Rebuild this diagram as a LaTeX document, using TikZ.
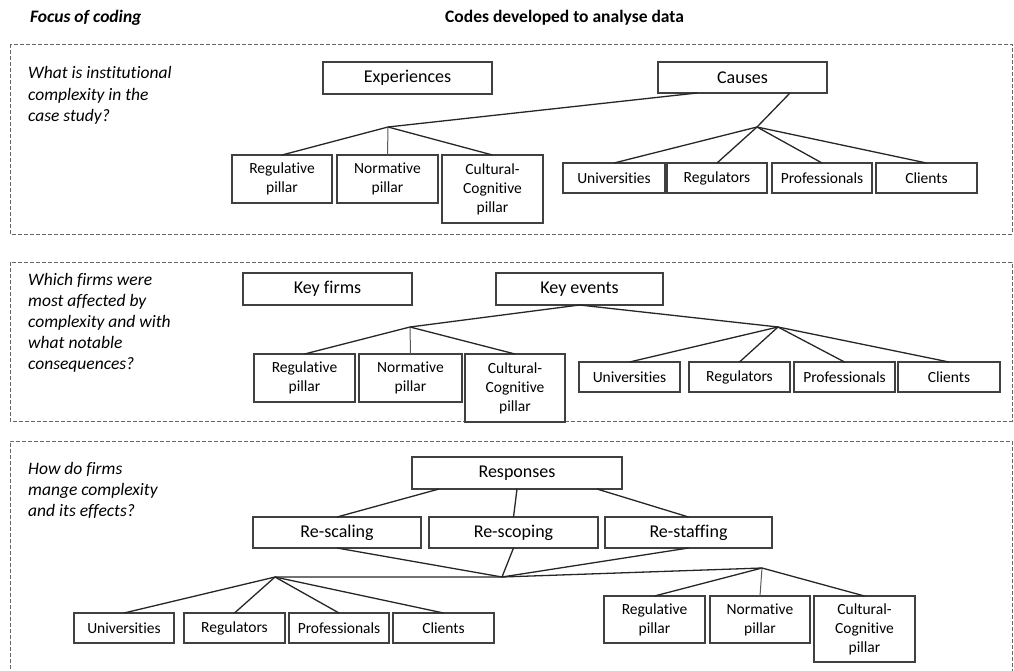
\documentclass[tikz,border=0pt]{standalone}
\usepackage{fontspec}
\setmainfont{Carlito}[Ligatures=NoCommon]
\usetikzlibrary{calc}
\begin{document}
\begin{tikzpicture}[x=1pt,y=-1pt,
  panel/.style={draw=black!60, line width=0.9pt, dash pattern=on 4pt off 2pt},
  bigbox/.style={draw=black!75, line width=1.1pt, inner sep=0pt, outer sep=0pt, font=\fontsize{18}{21}\selectfont, text=black},
  smallbox/.style={draw=black!75, line width=1.1pt, inner sep=0pt, outer sep=0pt, align=center, font=\fontsize{15.5}{19}\selectfont, text=black},
  twoline/.style={smallbox, minimum height=48pt},
  threeline/.style={smallbox, minimum height=68pt},
  oneline/.style={smallbox, minimum height=30pt},
  link/.style={draw=black!85, line width=1.3pt},
  vlink/.style={draw=black!65, line width=1pt},
  qline/.style={anchor=base west, inner sep=0pt, font=\fontsize{17.5}{21.5}\selectfont\itshape, text=black},
  head/.style={anchor=base west, inner sep=0pt, font=\fontsize{17.5}{21}\selectfont\bfseries, text=black},
]
\useasboundingbox (0,0) rectangle (1014,670);

% headers
\node[head, font=\fontsize{17.5}{21}\selectfont\bfseries\itshape] (h1) at (30,22) {Focus of coding};
\node[head] (h2) at (445,22) {Codes developed to analyse data};

% panels
\draw[panel] (10,44) rectangle (1012,234);
\draw[panel] (10,262) rectangle (1012,421);
\draw[panel] (10,675) -- (10,441) -- (1012,441) -- (1012,675);

% ---------- panel 1
\node[qline] (q1a) at (28,78.5) {What is institutional};
\node[qline] (q1b) at (28,100) {complexity in the};
\node[qline] (q1c) at (28,121.5) {case study?};

\node[bigbox, minimum width=169pt, minimum height=32pt] (exp) at (407.5,78) {Experiences};
\node[bigbox, minimum width=169pt, minimum height=31pt] (cau) at (742.5,77.5) {Causes};

\node[twoline, minimum width=100pt] (regA) at (282,179) {Regulative\\pillar};
\node[twoline, minimum width=101pt] (norA) at (387.5,179) {Normative\\pillar};
\node[threeline, minimum width=101pt] (culA) at (492.5,189) {Cultural-\\Cognitive\\pillar};
\coordinate (jA) at (388,127);

\node[oneline, minimum width=102pt] (uniB) at (614,178) {Universities};
\node[oneline, minimum width=100pt] (regB) at (717,178) {Regulators};
\node[oneline, minimum width=100pt] (proB) at (822,178) {Professionals};
\node[oneline, minimum width=101pt] (cliB) at (926.5,178) {Clients};
\coordinate (jB) at (757,127);

\draw[link] (jA) -- ([xshift=39pt]cau.south west);
\draw[link] (jA) -- (regA.north);
\draw[vlink] (jA) -- (norA.north);
\draw[link] (jA) -- (culA.north);
\draw[link] ([xshift=-37pt]cau.south east) -- (jB) -- (regB.north);
\draw[link] (jB) -- (uniB.north);
\draw[link] (jB) -- (proB.north);
\draw[link] (jB) -- (cliB.north);

% ---------- panel 2
\node[qline] (q2a) at (28,285) {Which firms were};
\node[qline] (q2b) at (28,306) {most affected by};
\node[qline] (q2c) at (28,327) {complexity and with};
\node[qline] (q2d) at (28,348) {what notable};
\node[qline] (q2e) at (28,369) {consequences?};

\node[bigbox, minimum width=169pt, minimum height=32pt] (kf) at (327.5,289) {Key firms};
\node[bigbox, minimum width=167pt, minimum height=32pt] (ke) at (579.5,289) {Key events};

\node[twoline, minimum width=101pt] (regC) at (304.5,378) {Regulative\\pillar};
\node[twoline, minimum width=103pt] (norC) at (410.5,378) {Normative\\pillar};
\node[threeline, minimum width=100pt] (culC) at (515,388) {Cultural-\\Cognitive\\pillar};
\coordinate (jC) at (410,327);

\node[oneline, minimum width=101pt] (uniD) at (629.5,377) {Universities};
\node[oneline, minimum width=101pt] (regD) at (739.5,377) {Regulators};
\node[oneline, minimum width=101pt] (proD) at (844.5,377) {Professionals};
\node[oneline, minimum width=102pt] (cliD) at (949,377) {Clients};
\coordinate (jD) at (778,327);

\draw[link] (jC) -- (ke.south) -- (jD);
\draw[link] (jC) -- (regC.north);
\draw[vlink] (jC) -- (norC.north);
\draw[link] (jC) -- (culC.north);
\draw[link] (jD) -- (uniD.north);
\draw[link] (jD) -- (regD.north);
\draw[link] (jD) -- (proD.north);
\draw[link] (jD) -- (cliD.north);

% ---------- panel 3
\node[qline] (q3a) at (28,474) {How do firms};
\node[qline] (q3b) at (28,495) {mange complexity};
\node[qline] (q3c) at (28,516) {and its effects?};

\node[bigbox, minimum width=210pt, minimum height=32pt] (resp) at (517,473) {Responses};
\node[bigbox, minimum width=168pt, minimum height=31pt] (rsc) at (337,532.5) {Re-scaling};
\node[bigbox, minimum width=169pt, minimum height=31pt] (rsp) at (513.5,532.5) {Re-scoping};
\node[bigbox, minimum width=167pt, minimum height=31pt] (rst) at (688.5,532.5) {Re-staffing};

\draw[link] ([xshift=27pt]resp.south west) -- (rsc.north);
\draw[link] (resp.south) -- (rsp.north);
\draw[link] ([xshift=-25pt]resp.south east) -- (rst.north);

\coordinate (jE) at (502,577);
\coordinate (jF) at (275,577);
\coordinate (jG) at (762,568);

\draw[link] (rsc.south) -- (jE);
\draw[link] (rsp.south) -- (jE);
\draw[link] (rst.south) -- (jE);
\draw[link] (jF) -- (jE) -- (jG);

\node[oneline, minimum width=100pt] (uniF) at (124,628) {Universities};
\node[oneline, minimum width=101pt] (regF) at (234.5,628) {Regulators};
\node[oneline, minimum width=100pt] (proF) at (339,628) {Professionals};
\node[oneline, minimum width=101pt] (cliF) at (443.5,628) {Clients};

\draw[link] (jF) -- (uniF.north);
\draw[link] (jF) -- (regF.north);
\draw[link] (jF) -- (proF.north);
\draw[link] (jF) -- (cliF.north);

\node[twoline, minimum width=101pt, minimum height=47pt] (regG) at (654.5,619.5) {Regulative\\pillar};
\node[twoline, minimum width=100pt, minimum height=47pt] (norG) at (760,619.5) {Normative\\pillar};
\node[threeline, minimum width=101pt, minimum height=66pt] (culG) at (864.5,629) {Cultural-\\Cognitive\\pillar};

\draw[link] (jG) -- (regG.north);
\draw[vlink] (jG) -- (norG.north);
\draw[link] (jG) -- (culG.north);
\end{tikzpicture}
\end{document}
